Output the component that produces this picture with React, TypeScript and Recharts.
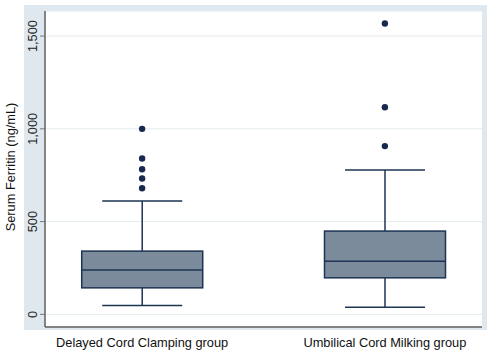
import { ComposedChart, Bar, Scatter, XAxis, YAxis, CartesianGrid } from 'recharts';

const groups = ['Delayed Cord Clamping group', 'Umbilical Cord Milking group'];
const whiskerLow = [48, 38];
const q1 = [143, 197];
const median = [239, 287];
const q3 = [341, 449];
const whiskerHigh = [611, 778];
const outliers = [
  [680, 732, 782, 840, 1000],
  [907, 1116, 1568],
];
const yTicks = [0, 500, 1000, 1500];

const boxData = groups.map((name, i) => ({
  pos: i + 1,
  name,
  range: [whiskerLow[i], whiskerHigh[i]],
  low: whiskerLow[i],
  q1: q1[i],
  median: median[i],
  q3: q3[i],
  high: whiskerHigh[i],
}));

const outlierData = outliers.flatMap((vals, i) => vals.map((value) => ({ pos: i + 1, value })));

const FONT = '"Liberation Sans", Arial, sans-serif';
const NAVY = '#1d3453';
const BOX_FILL = '#7b8b9c';

const BoxShape = (props: any) => {
  const { x, y, width, height, payload } = props;
  const { low, high } = payload;
  const py = (v: number) => y + (height * (high - v)) / (high - low);
  const cx = x + width / 2;
  const cap = 40;
  return (
    <g stroke={NAVY} strokeWidth={1.5}>
      <line x1={cx} x2={cx} y1={py(high)} y2={py(payload.q3)} />
      <line x1={cx} x2={cx} y1={py(payload.q1)} y2={py(low)} />
      <line x1={cx - cap} x2={cx + cap} y1={py(high)} y2={py(high)} />
      <line x1={cx - cap} x2={cx + cap} y1={py(low)} y2={py(low)} />
      <rect x={x} y={py(payload.q3)} width={width} height={py(payload.q1) - py(payload.q3)} fill={BOX_FILL} />
      <line x1={x} x2={x + width} y1={py(payload.median)} y2={py(payload.median)} />
    </g>
  );
};

const Dot = (props: any) => <circle cx={props.cx} cy={props.cy} r={3.2} fill="#17294f" />;

const YTick = (props: any) => {
  const { x, y, payload } = props;
  const cx = x - 5.5;
  return (
    <text x={cx} y={y} transform={`rotate(-90, ${cx}, ${y})`} textAnchor="middle" dominantBaseline="central"
      fontSize={12.8} fontFamily={FONT} fill="#222">
      {payload.value.toLocaleString('en-US')}
    </text>
  );
};

const XTick = (props: any) => {
  const { x, y, payload } = props;
  return (
    <text x={x} y={y + 12} textAnchor="middle" fontSize={12.8} fontFamily={FONT} fill="#111">
      {groups[payload.value - 1]}
    </text>
  );
};

const YTitle = (props: any) => {
  const vb = props.viewBox || { x: 0, y: 11, width: 45, height: 316 };
  const cx = vb.x + 10;
  const cy = vb.y + vb.height / 2 - 2;
  return (
    <text x={cx} y={cy} transform={`rotate(-90, ${cx}, ${cy})`} textAnchor="middle" dominantBaseline="central"
      fontSize={12.8} fontFamily={FONT} fill="#111">
      Serum Ferritin (ng/mL)
    </text>
  );
};

export default function App() {
  return (
    <div style={{ position: 'absolute', left: 0, top: 0, width: 500, height: 355, background: '#fff' }}>
      <div style={{ position: 'absolute', left: 24, top: 5, width: 463, height: 325, background: '#dfe8ee' }} />
      <div style={{ position: 'absolute', left: 0, top: 0 }}>
        <ComposedChart width={500} height={355} data={boxData} margin={{ top: 11, right: 18, bottom: 0, left: 0 }}>
          <CartesianGrid vertical={false} stroke="#e4ecef" fill="#fff" />
          <XAxis
            dataKey="pos"
            type="number"
            domain={[0.6, 2.4]}
            ticks={[1, 2]}
            allowDataOverflow
            height={28}
            tickLine={false}
            axisLine={{ stroke: '#5f5f5f', strokeWidth: 1.5 }}
            tick={<XTick />}
          />
          <YAxis
            type="number"
            domain={[-68, 1635]}
            ticks={yTicks}
            allowDataOverflow
            width={45}
            tickSize={5}
            tickLine={{ stroke: '#777' }}
            axisLine={{ stroke: '#5f5f5f', strokeWidth: 1.5 }}
            tick={<YTick />}
            label={<YTitle />}
          />
          <Bar dataKey="range" barSize={121} shape={<BoxShape />} isAnimationActive={false} />
          <Scatter data={outlierData} dataKey="value" shape={<Dot />} isAnimationActive={false} />
        </ComposedChart>
      </div>
    </div>
  );
}
